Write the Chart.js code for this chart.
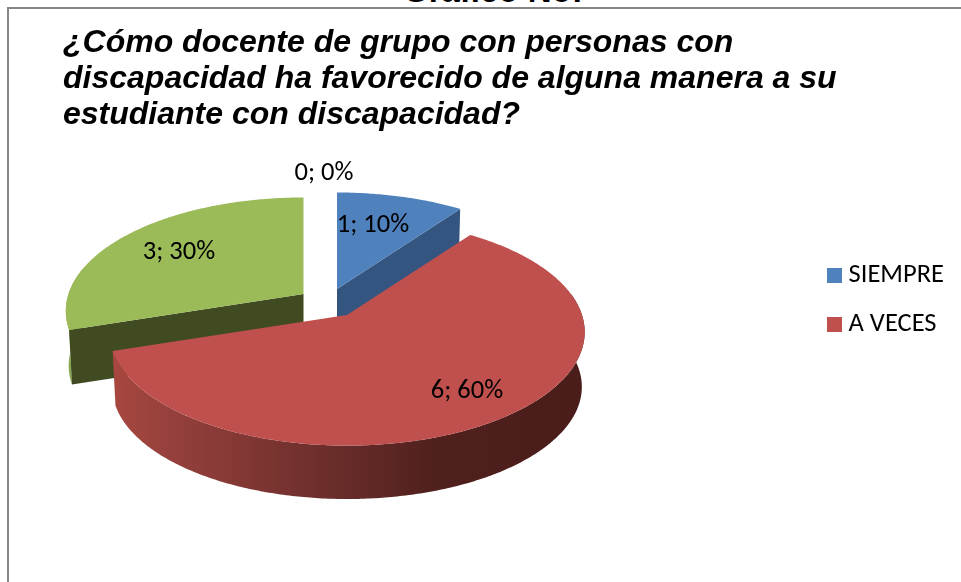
<!DOCTYPE html>
<html>
<head>
<meta charset="utf-8">
<script src="https://cdn.jsdelivr.net/npm/chart.js@4"></script>
<style>
html, body { margin: 0; padding: 0; background: #fff; overflow: hidden; }
#wrap { position: absolute; left: 0; top: 0; width: 961px; height: 582px; overflow: hidden; }
#frame { position: absolute; left: 7px; top: 7px; width: 1000px; height: 700px; border: 2px solid #868686; box-sizing: border-box; }
#over { position: absolute; left: 403px; top: -28px; font: bold 33px "Liberation Sans"; color: #000; }
</style>
</head>
<body>
<div id="wrap">
<div id="over">Gráfico No:</div>
<div id="frame"></div>
<canvas id="myChart" width="961" height="582" style="position:absolute;left:0;top:0"></canvas>
</div>
<script>
const categories = ["SIEMPRE", "A VECES", "NUNCA", "OTRO"];
const values = [1, 6, 3, 0];
const percents = [10, 60, 30, 0];
const sliceColors = ["#4f81bd", "#c0504d", "#9bbb59", "#8064a2"];
const titleLines = ["¿Cómo docente de grupo con personas con", "discapacidad ha favorecido de alguna manera a su", "estudiante con discapacidad?"];

// 3D look: each slice has its own origin, the disc goes through a small perspective
const origins = [[337, 289], [347, 315], [303.5, 294], [330, 290]];
const labelPos = [[373, 225], [467, 391], [179, 252], [324, 173]];
const rx = 235, ry = 111, persp = 0.15, depth = 55, bottomScale = 0.988;

function project(i, a, scale, dy) {
    const u = Math.cos(a), v = Math.sin(a), d = 1 - persp * v;
    return [origins[i][0] + rx * scale * u / d, origins[i][1] + ry * scale * v / d + dy];
}

function arcPoints(i, a0, a1, scale, dy) {
    const pts = [], n = Math.max(2, Math.ceil(Math.abs(a1 - a0) * 90));
    for (let k = 0; k <= n; k++) pts.push(project(i, a0 + (a1 - a0) * k / n, scale, dy));
    return pts;
}

function fillPoly(ctx, pts, color) {
    ctx.beginPath();
    pts.forEach((p, k) => k ? ctx.lineTo(p[0], p[1]) : ctx.moveTo(p[0], p[1]));
    ctx.closePath();
    ctx.fillStyle = color;
    ctx.fill();
}

function wall(ctx, i, a0, a1, color) {
    const top = arcPoints(i, a0, a1, 1, 0);
    const bottom = arcPoints(i, a1, a0, bottomScale, depth);
    fillPoly(ctx, top.concat(bottom), color);
}

// the face you see where a slice was cut, from the centre out to the rim
function cutFace(ctx, i, a, color) {
    const o = origins[i], rim = project(i, a, 1, 0), rimLow = project(i, a, bottomScale, depth);
    fillPoly(ctx, [[o[0], o[1]], rim, rimLow, [o[0], o[1] + depth]], color);
}

// legend square as an image, chart.js keeps the gap to the text small this way
function legendSquare(color) {
    const c = document.createElement("canvas");
    c.width = 15;
    c.height = 15;
    const g = c.getContext("2d");
    g.fillStyle = color;
    g.fillRect(0, 0, 15, 15);
    return c;
}

const pie3d = {
    id: "pie3d",
    // replaces the flat arcs, the angles still come from chart.js
    beforeDatasetDraw(chart) {
        const ctx = chart.ctx;
        const arcs = chart.getDatasetMeta(0).data;
        ctx.save();

        // green
        let a = arcs[2];
        wall(ctx, 2, a.startAngle, Math.PI + 0.25, "#8aa84f");
        cutFace(ctx, 2, a.startAngle, "#414b22");
        fillPoly(ctx, [origins[2]].concat(arcPoints(2, a.startAngle, a.endAngle, 1, 0)), sliceColors[2]);

        // blue
        a = arcs[0];
        cutFace(ctx, 0, a.endAngle, "#34557f");
        fillPoly(ctx, [origins[0]].concat(arcPoints(0, a.startAngle, a.endAngle, 1, 0)), sliceColors[0]);

        // red
        a = arcs[1];
        const g = ctx.createLinearGradient(112, 0, 585, 0);
        g.addColorStop(0, "#a8473f");
        g.addColorStop(0.12, "#96403c");
        g.addColorStop(0.42, "#70302d");
        g.addColorStop(0.68, "#50201d");
        g.addColorStop(1, "#4a1d1a");
        wall(ctx, 1, -0.2, a.endAngle, g);
        fillPoly(ctx, [origins[1]].concat(arcPoints(1, a.startAngle, a.endAngle, 1, 0)), sliceColors[1]);

        ctx.restore();
        return false;
    },
    afterDatasetsDraw(chart) {
        const ctx = chart.ctx;
        ctx.save();
        ctx.fillStyle = "#000";
        ctx.font = "26.5px Carlito, Lato, sans-serif";
        ctx.textAlign = "center";
        ctx.textBaseline = "middle";
        values.forEach((v, i) => ctx.fillText(v + "; " + percents[i] + "%", labelPos[i][0], labelPos[i][1]));
        ctx.restore();
    }
};

const myChart = new Chart(document.getElementById("myChart").getContext("2d"), {
    type: "pie",
    data: {
        labels: categories,
        datasets: [{
            data: values,
            backgroundColor: sliceColors,
            borderWidth: 0
        }]
    },
    options: {
        responsive: false,
        animation: false,
        layout: { padding: { left: 63, right: 7, top: 18, bottom: 0 } },
        plugins: {
            title: {
                display: true,
                text: titleLines,
                align: "start",
                color: "#000",
                font: { family: "'Liberation Sans'", size: 32, weight: "bold", style: "italic", lineHeight: 1.13 },
                padding: { top: 7, bottom: 0 }
            },
            legend: {
                position: "right",
                labels: {
                    usePointStyle: true,
                    boxWidth: 2,
                    boxHeight: 15,
                    padding: 23,
                    color: "#000",
                    font: { family: "Carlito, Lato, sans-serif", size: 26.5 },
                    generateLabels(chart) {
                        const items = Chart.overrides.doughnut.plugins.legend.labels.generateLabels(chart);
                        return items.slice(0, 2).map(item => ({ ...item, pointStyle: legendSquare(item.fillStyle) }));
                    }
                }
            },
            tooltip: { enabled: false }
        }
    },
    plugins: [pie3d]
});
</script>
</body>
</html>
